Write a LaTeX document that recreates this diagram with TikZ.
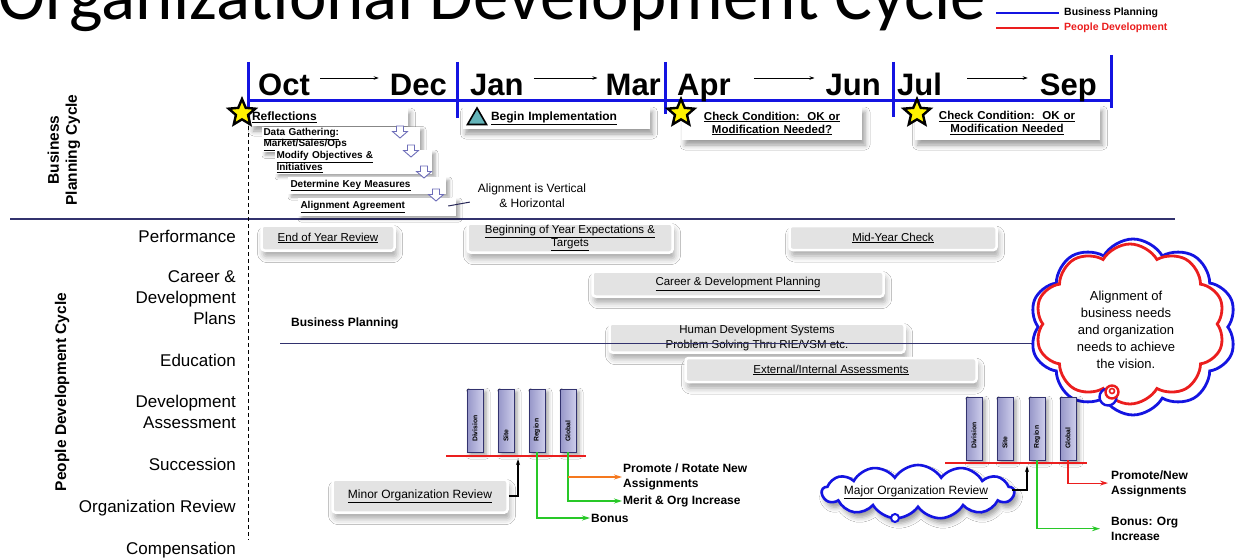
\documentclass[tikz,border=0pt]{standalone}
\usepackage{fontspec}
\setmainfont{Liberation Sans}
\newfontfamily\titlefont{Carlito}
\usetikzlibrary{shapes.geometric,shapes.symbols,shadows.blur,arrows.meta,calc}
\definecolor{tlblue}{RGB}{20,20,225}
\definecolor{navy}{RGB}{50,50,110}
\definecolor{bpred}{RGB}{235,30,30}
\definecolor{arrgreen}{RGB}{40,200,40}
\definecolor{arrorange}{RGB}{245,120,30}
\definecolor{barlight}{RGB}{205,205,235}
\definecolor{bardark}{RGB}{150,150,200}
\definecolor{trifill}{RGB}{100,180,185}
\definecolor{arrowline}{RGB}{110,110,185}
\newcommand\ulx[1]{\underline{#1}}
\tikzset{
  downarr/.pic={\draw[draw=arrowline,fill=white,line width=0.9pt]
    (-3.5,-6) -- (3.5,-6) -- (3.5,-0.5) -- (7.5,-0.5) -- (0,6) -- (-7.5,-0.5) -- (-3.5,-0.5) -- cycle;},
}
\begin{document}
\begin{tikzpicture}[x=1pt,y=-1pt,
  month/.style={font=\bfseries\fontsize{31}{31}\selectfont,inner sep=0pt},
  monthgo/.style={-{Stealth[length=5pt,width=3.5pt]},line width=0.8pt},
  softshadow/.style={blur shadow={shadow xshift=3pt,shadow yshift=-5pt,shadow blur radius=5pt,shadow opacity=40}},
  topbox/.style={fill=white,softshadow,inner sep=1.5pt,align=left,
    font=\bfseries\fontsize{12}{13}\selectfont},
  stepbox/.style={fill=white,blur shadow={shadow xshift=3pt,shadow yshift=-3pt,shadow blur radius=3pt,shadow opacity=35},
    inner sep=1.5pt,align=left,font=\bfseries\fontsize{10}{11.5}\selectfont},
  cardbox/.style={fill=black!11,draw=white,line width=2.5pt,rounded corners=3pt,
    blur shadow={shadow xshift=2pt,shadow yshift=-6pt,shadow blur radius=6pt,shadow opacity=35},
    font=\fontsize{11.5}{14}\selectfont,align=center,inner sep=1pt},
  rowlab/.style={anchor=base east,font=\fontsize{17}{21}\selectfont,align=right,inner sep=0pt},
  rowlabm/.style={anchor=east,font=\fontsize{17}{21}\selectfont,align=right,inner sep=0pt},
  sidelab/.style={rotate=90,font=\bfseries\fontsize{15.5}{18}\selectfont,align=center,inner sep=0pt},
  bigstar/.style={star,star points=5,star point ratio=2.2,minimum size=28pt,inner sep=0pt,
    fill=yellow,draw=black,line width=2.4pt},
  bar/.style={minimum width=16pt,minimum height=63pt,inner sep=0pt,draw=navy,line width=0.8pt,
    left color=bardark,right color=barlight,
    blur shadow={shadow xshift=3pt,shadow yshift=-3pt,shadow blur radius=4pt,shadow opacity=40}},
  barlab/.style={rotate=90,anchor=west,font=\bfseries\fontsize{6.8}{7}\selectfont,inner sep=0pt},
  redbar/.style={draw=bpred,line width=2.8pt},
  outlab/.style={font=\bfseries\fontsize{12}{14.5}\selectfont,align=left,inner sep=1pt},
  greengo/.style={draw=arrgreen,line width=1.1pt,-{Stealth[length=8pt,width=5pt]}},
  orangego/.style={draw=arrorange,line width=1.1pt,-{Stealth[length=8pt,width=5pt]}},
  redgo/.style={draw=bpred,line width=1.1pt,-{Stealth[length=8pt,width=5pt]}},
  blackgo/.style={draw=black,line width=1.1pt,-{Stealth[length=6pt,width=4pt]}},
  divider/.style={draw=navy,line width=1.2pt},
]
\useasboundingbox (0,0) rectangle (1237,559);
\clip (0,0) rectangle (1237,559);
\fill[white] (0,0) rectangle (1237,559);

% title (runs past the top edge of the page)
\node[anchor=base east,inner sep=0pt,font=\titlefont\fontsize{71}{71}\selectfont] (title) at (986,20) {Organizational Development Cycle};

% legend
\coordinate (lg1) at (996,13);
\coordinate (lg2) at (996,28);
\node[anchor=west,inner sep=1pt,font=\bfseries\fontsize{10.5}{12}\selectfont] (lgt1) at (1063,13) {Business Planning};
\node[anchor=west,inner sep=1pt,font=\bfseries\fontsize{10.5}{12}\selectfont,text=bpred] (lgt2) at (1063,28) {People Development};
\draw[tlblue,line width=1.6pt] (lg1) -- ($(lgt1.west)+(-4,0)$);
\draw[bpred,line width=1.6pt] (lg2) -- ($(lgt2.west)+(-4,0)$);

% timeline
\coordinate (tl0) at (248,101);
\coordinate (tl1) at (1112,101);
\draw[tlblue,line width=3pt] (tl0) -- (tl1);
\foreach \x/\a/\b in {248/62/118,457/62/118,665/62/114,893/62/117,1111/55/108}
  \draw[tlblue,line width=3pt] (\x,\a) -- (\x,\b);

\node[month,anchor=base west] (oct) at (258,96) {Oct};
\node[month,anchor=base east] (dec) at (447,96) {Dec};
\node[month,anchor=base west] (jan) at (470,96) {Jan};
\node[month,anchor=base east] (mar) at (661,96) {Mar};
\node[month,anchor=base west] (apr) at (677,96) {Apr};
\node[month,anchor=base east] (jun) at (881,96) {Jun};
\node[month,anchor=base west] (jul) at (897,96) {Jul};
\node[month,anchor=base east] (sep) at (1097,96) {Sep};
\draw[monthgo] ($(oct.base east)+(10,-18)$) -- ($(dec.base west)+(-11,-18)$);
\draw[monthgo] ($(jan.base east)+(10,-18)$) -- ($(mar.base west)+(-8,-18)$);
\draw[monthgo] ($(apr.base east)+(23,-18)$) -- ($(jun.base west)+(-11,-18)$);
\draw[monthgo] ($(jul.base east)+(25,-18)$) -- ($(sep.base west)+(-12,-18)$);

% section dividers
\coordinate (dv0) at (10,219);
\coordinate (dv1) at (1175,219);
\draw[divider] (dv0) -- (dv1);
\coordinate (dash0) at (248,126);
\coordinate (dash1) at (248,540);
\draw[line width=0.8pt,dash pattern=on 4pt off 3pt] (dash0) -- (dash1);

% side labels
\node[sidelab] (bpc) at (64,150) {Business\\Planning Cycle};
\node[sidelab] (pdc) at (62,392) {People Development Cycle};

% row labels
\node[rowlab] (perf) at (236,242) {Performance};
\node[rowlabm] (career) at (236,298) {Career \&\\Development\\Plans};
\node[rowlab] (educ) at (236,366) {Education};
\node[rowlabm] (devas) at (236,412) {Development\\Assessment};
\node[rowlab] (succ) at (236,470) {Succession};
\node[rowlab] (orgrev) at (236,512) {Organization Review};
\node[rowlab] (comp) at (236,554) {Compensation};

% business planning steps
\node[topbox,text width=154pt,minimum height=18pt] (refl) at (329,117) {\ulx{Reflections}};
\node[stepbox,text width=155pt,minimum height=23pt] (gather) at (341,139.5) {\ulx{Data Gathering:}\\\ulx{Market/Sales/Ops}};
\node[stepbox,text width=154pt,minimum height=22pt] (modify) at (353.5,162) {\ulx{Modify Objectives \&}\\\ulx{Initiatives}};
\node[stepbox,text width=155pt,minimum height=17pt] (measure) at (367,185.5) {\hspace*{1pt}\ulx{Determine Key Measures}};
\node[stepbox,text width=155pt,minimum height=18pt] (agree) at (377,207) {\hspace*{1pt}\ulx{Alignment Agreement}};
\pic at (400,132) {downarr};
\pic at (411,151) {downarr};
\pic at (424,172) {downarr};
\pic at (436,195) {downarr};

\node[align=center,inner sep=0pt,font=\fontsize{12}{15}\selectfont] (alignvh) at (532,196) {Alignment is Vertical\\\& Horizontal};
\draw[line width=1pt,navy!80!black] ($(agree.east)+(-8,-1)$) -- ($(alignvh.south west)+(-8,-6)$);

\node[topbox,text width=184pt,minimum height=22pt] (begin) at (556,118) {\hspace*{27pt}\ulx{Begin Implementation}};
\node[topbox,align=center,text width=177pt,minimum height=33pt,font=\bfseries\fontsize{11.5}{13}\selectfont] (check1) at (772,123.5) {\ulx{Check Condition:\ \ OK or}\\\ulx{Modification Needed?}};
\node[topbox,align=center,text width=182pt,minimum height=34pt,font=\bfseries\fontsize{11.5}{13}\selectfont] (check2) at (1007,123) {\ulx{Check Condition:\ \ OK or}\\\ulx{Modification Needed}};

\node[bigstar] (star1) at (242,113) {};
\node[bigstar] (star2) at (681,113) {};
\node[bigstar] (star3) at (917,113) {};
\node[regular polygon,regular polygon sides=3,minimum size=22pt,inner sep=0pt,
  fill=trifill,draw=black,line width=1.6pt] (tri) at (477,119) {};

% people development entries
\node[cardbox,minimum width=133pt,minimum height=25pt] (eoy) at (328,238) {\ulx{End of Year Review}};
\node[cardbox,minimum width=205pt,minimum height=29pt,font=\fontsize{11.5}{13.5}\selectfont] (boy) at (570,238) {\ulx{Beginning of Year Expectations \&}\\\ulx{Targets}};
\node[cardbox,minimum width=207pt,minimum height=24pt] (mid) at (893,238) {\ulx{Mid-Year Check}};
\node[cardbox,minimum width=291pt,minimum height=25pt] (cdp) at (738,284) {\ulx{Career \& Development Planning}};
\node[cardbox,minimum width=295pt,minimum height=29pt,font=\fontsize{11.5}{14.5}\selectfont] (hds) at (757,338) {Human Development Systems\\Problem Solving Thru RIE/VSM etc.};
\node[cardbox,minimum width=291pt,minimum height=24pt] (eia) at (831,370) {\ulx{External/Internal Assessments}};

\node[anchor=west,inner sep=0pt,font=\bfseries\fontsize{12}{14}\selectfont] (bplan) at (291,323) {Business Planning};
\coordinate (bpl) at (280,343);
\coordinate (bpr) at (1050,343);
\draw[divider,line width=1pt] (bpl) -- (bpr);

% alignment cloud
\node[cloud,cloud puffs=10,cloud puff arc=120,aspect=1.15,minimum width=207pt,minimum height=176pt,
  draw=tlblue,line width=2.8pt,fill=white] (cloudB) at (1133,327) {};
\node[cloud,cloud puffs=10,cloud puff arc=120,aspect=1.15,minimum width=190pt,minimum height=160pt,
  draw=bpred,line width=2.8pt,fill=white] (cloudR) at (1130,324) {};
\node[align=center,inner sep=0pt,font=\fontsize{13}{17}\selectfont] (vision) at (1126,330)
  {Alignment of\\business needs\\and organization\\needs to achieve\\the vision.};
\node[circle,draw=tlblue,line width=2.4pt,fill=white,minimum size=17pt,inner sep=0pt] (bubB) at (1108,397) {};
\node[circle,draw=bpred,line width=2.4pt,fill=white,minimum size=13pt,inner sep=0pt] (bubR) at (1112,392) {};
\node[circle,draw=bpred,line width=1.6pt,minimum size=5pt,inner sep=0pt] (bubC) at (1112,391) {};

% minor organization review
\node[bar] (b1) at (475,420.5) {};
\node[bar] (b2) at (506,420.5) {};
\node[bar] (b3) at (537,420.5) {};
\node[bar] (b4) at (568,420.5) {};
\node[barlab] at (475,442) {Division};
\node[barlab] at (506,442) {Site};
\node[barlab] at (537,442) {Region};
\node[barlab] at (568,442) {Global};
\coordinate (rl1) at (446,456);
\coordinate (rr1) at (586,456);
\draw[redbar] (rl1) -- (rr1);

\node[cardbox,minimum width=175pt,minimum height=33pt,font=\fontsize{12}{14}\selectfont] (minor) at (420,496) {\ulx{Minor Organization Review}};
\coordinate (tipA) at (518,459);
\draw[blackgo] (minor.east) -| (tipA);

\node[outlab,anchor=west] (bonus) at (590,518) {Bonus};
\node[outlab,anchor=west] (merit) at (622,501) {Merit \& Org Increase};
\node[outlab,anchor=north west] (promote) at (622,463) {Promote / Rotate New\\Assignments};
\draw[greengo] (b3.south) |- (bonus.west);
\draw[greengo] (b4.south) |- (merit.west);
\coordinate (og) at (568,477);
\draw[orangego] (og) -- (og -| promote.west);

% major organization review
\node[bar] (b5) at (974,428.5) {};
\node[bar] (b6) at (1005,428.5) {};
\node[bar] (b7) at (1037,428.5) {};
\node[bar] (b8) at (1068,428.5) {};
\node[barlab] at (974,449) {Division};
\node[barlab] at (1005,449) {Site};
\node[barlab] at (1037,449) {Region};
\node[barlab] at (1068,449) {Global};
\coordinate (rl2) at (945,463);
\coordinate (rr2) at (1087,463);
\draw[redbar] (rl2) -- (rr2);

\node[cloud,cloud puffs=13,cloud puff arc=115,aspect=3.5,minimum width=192pt,minimum height=54pt,inner sep=0pt,
  draw=tlblue,line width=2.6pt,fill=white,softshadow] (major) at (918,492) {};
\node[inner sep=0pt,font=\fontsize{12}{14}\selectfont] (majortxt) at (916,492) {\ulx{Major Organization Review}};
\node[circle,draw=tlblue,line width=2pt,fill=white,minimum size=8pt,inner sep=0pt] (mbub) at (895,518) {};
\coordinate (tipB) at (1027,466);
\draw[blackgo] ($(major.east)+(-4,-2)$) -| (tipB);

\node[outlab,anchor=north west] (promote2) at (1110,470) {Promote/New\\Assignments};
\node[outlab,anchor=north west] (bonus2) at (1110,516) {Bonus: Org\\Increase};
\draw[greengo] (b7.south) |- ($(bonus2.west)+(-10,0)$);
\draw[redgo] (b8.south) |- ($(promote2.west)+(-2,-1)$);
\end{tikzpicture}
\end{document}
